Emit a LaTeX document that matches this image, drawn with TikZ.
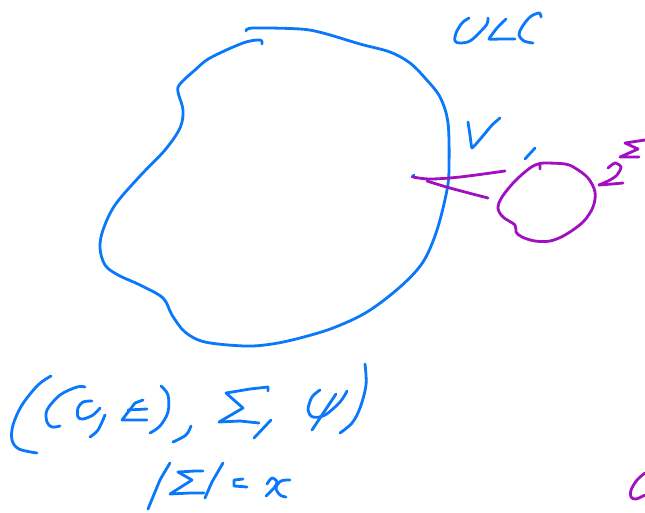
\documentclass[tikz,border=0pt]{standalone}
\definecolor{inkblue}{HTML}{0A78FA}
\definecolor{inkpurple}{HTML}{A010C0}
\tikzset{
  inkb/.style={draw=inkblue,line width=2.1pt,line cap=round,line join=round},
  inkp/.style={draw=inkpurple,line width=2.1pt,line cap=round,line join=round},
  sm/.style={smooth,tension=0.55}
}
\begin{document}
\begin{tikzpicture}[x=0.75pt,y=-0.75pt]
\useasboundingbox[fill=white] (0,0) rectangle (645,512);
% main blob
\draw[inkb] plot[sm] coordinates {(262,44) (260,40) (243,43) (210,58) (195,70) (180,84) (178,92) (183,110) (180,128) (165,150) (140,176) (115,205) (103,230) (100,248) (105,265) (118,275) (140,285) (163,298) (172,315) (185,332) (205,342) (245,346) (272,344) (300,338) (333,328) (367,312) (400,287) (423,262) (437,230) (447,190) (449,167) (448,123) (440,97) (425,78) (410,63) (390,52) (360,44) (323,33) (300,29) (253,28) (246,31)};
% ULC
\draw[inkb] plot[sm] coordinates {(469,18) (462,23) (456,33) (455,41) (460,43) (470,41) (480,32) (487,24) (488,18)};
\draw[inkb] plot[sm,tension=0.2] coordinates {(506,19) (497,28) (489,39) (500,39) (515,39)};
\draw[inkb] plot[sm] coordinates {(541,17) (539,13) (530,17) (522,27) (519,35) (524,41) (533,43)};
% V
\draw[inkb] plot[sm,tension=0.2] coordinates {(468,122) (470,135) (472,148) (482,137) (492,125) (500,118)};
\draw[inkb] (525,159) -- (535,148);
% crossing point
\draw[inkb] (412,177) -- (414,175);
% purple lines
\draw[inkp] plot[sm] coordinates {(413,177) (430,179) (460,177) (505,171)};
\draw[inkp] plot[sm] coordinates {(427,181) (450,188) (488,198)};
% purple blob
\draw[inkp] plot[sm] coordinates {(540,169) (539,164) (530,168) (515,181) (502,197) (498,208) (503,217) (515,225) (516,232) (522,237) (535,241) (550,241) (565,235) (583,222) (593,207) (595,192) (588,178) (575,168) (565,164) (545,163) (538,164)};
% 2
\draw[inkp] plot[sm,tension=0.45] coordinates {(608,168) (615,163) (621,167) (617,175) (610,180) (599,185)};
\draw[inkp] (599,185) -- (612,184) -- (623,183);
% Sigma
\draw[inkp] (645,140) -- (625,143) -- (638,149) -- (620,157) -- (639,157);
% tuple
\draw[inkb] plot[sm] coordinates {(51,376) (38,385) (22,405) (13,425) (12,440) (19,449) (37,453)};
\draw[inkb] plot[sm] coordinates {(85,387) (77,387) (60,395) (47,410) (47,422) (52,427) (60,426)};
\draw[inkb] plot[sm] coordinates {(92,401) (83,402) (78,408) (78,417) (83,419) (93,415) (100,408)};
\draw[inkb] plot[sm] coordinates {(105,415) (98,430) (90,437)};
\draw[inkb] (143,400) -- (135,403) -- (122,420) -- (147,420);
\draw[inkb] (128,410) -- (147,409);
\draw[inkb] plot[sm] coordinates {(161,386) (168,395) (168,412) (160,426) (150,433)};
\draw[inkb] plot[sm] coordinates {(191,426) (186,435) (173,442)};
\draw[inkb] (226,393) -- (250,389) -- (268,387) -- (268,391);
\draw[inkb] (226,393) -- (243,408) -- (219,422) -- (240,421) -- (259,423);
\draw[inkb] (271,420) -- (254,438);
\draw[inkb] plot[sm] coordinates {(320,390) (312,397) (308,410) (313,417) (325,415) (340,402) (347,391)};
\draw[inkb] (336,394) -- (312,430);
\draw[inkb] plot[sm] coordinates {(365,364) (366,385) (360,408) (352,423) (340,433)};
% |Sigma| = k
\draw[inkb] plot[sm,tension=0.2] coordinates {(170,463) (160,480) (148,509)};
\draw[inkb] (178,472) -- (195,471) -- (203,471);
\draw[inkb] (178,472) -- (192,480) -- (170,494) -- (190,493) -- (204,493);
\draw[inkb] plot[sm,tension=0.2] coordinates {(223,463) (212,482) (205,498)};
\draw[inkb] (243,479) -- (234,480) -- (234,486) -- (247,487);
\draw[inkb] plot[sm] coordinates {(267,484) (272,478) (277,482) (274,488) (266,496)};
\draw[inkb] plot[sm] coordinates {(290,480) (281,481) (276,488) (280,495) (286,497)};
% bottom right
\draw[inkp] plot[sm] coordinates {(645,473) (637,480) (631,490) (631,497) (636,499) (645,495)};
\end{tikzpicture}
\end{document}
